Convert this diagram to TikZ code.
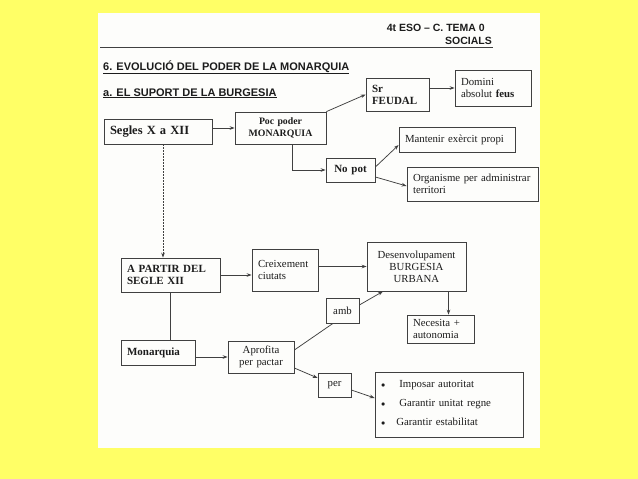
\documentclass[tikz,border=0pt]{standalone}
\usepackage{fontspec}
\setmainfont{Liberation Serif}
\newfontfamily\arialfont{Liberation Sans}
\usepackage{tikz}
\usetikzlibrary{arrows.meta, positioning, calc}
\definecolor{fonsgroc}{RGB}{255,255,102}
\definecolor{paper}{RGB}{253,253,251}
\definecolor{tinta}{RGB}{64,64,64}
\definecolor{lletra}{RGB}{28,28,28}
\tikzstyle{caixa}  = [rectangle, draw=tinta, line width=0.75pt, text=lletra,
                      inner xsep=6pt, inner ysep=2pt, align=left,
                      font=\fontsize{10.8}{12}\selectfont]
\tikzstyle{caixab} = [caixa, font=\fontsize{11}{12}\selectfont\bfseries]
\tikzstyle{titol}  = [inner sep=0pt, text=lletra,
                      font=\arialfont\bfseries\fontsize{11}{13}\selectfont]
\tikzstyle{fl}     = [-{Stealth[length=5pt, width=3.6pt]}, draw=tinta, line width=0.75pt]
\tikzstyle{ln}     = [draw=tinta, line width=0.75pt]
\newcommand{\punt}{{\fontsize{8}{8}\selectfont$\bullet$}}

\begin{document}
\begin{tikzpicture}[x=1pt, y=-1pt]

  % fons i full
  \fill[fonsgroc] (0,0) rectangle (638,479);
  \fill[paper] (98,13) rectangle (540,448);
  \useasboundingbox (0,0) rectangle (638,479);

  % capcalera
  \node[titol, anchor=base east, font=\arialfont\bfseries\fontsize{10.5}{12}\selectfont]
      (curs) at (485,31) {4t ESO – C. TEMA 0};
  \node[titol, anchor=base east, font=\arialfont\bfseries\fontsize{10.5}{12}\selectfont]
      (area) at (492,44) {SOCIALS};
  \coordinate (reglaA) at (100,47);
  \coordinate (reglaB) at (493,47);
  \draw[ln, line width=0.6pt] (reglaA) -- (reglaB);
  \node[titol, anchor=base west] (tema) at (103,70)
      {\underline{6. EVOLUCIÓ DEL PODER DE LA MONARQUIA}};
  \node[titol, anchor=base west] (apartat) at (103,96)
      {\underline{a. EL SUPORT DE LA BURGESIA}};

  % segles X a XII
  \node[caixab, text width=96pt, minimum height=25pt,
        font=\fontsize{12.5}{14}\selectfont\bfseries] (segles) at (158,131.5)
      {Segles X a XII};
  \node[caixab, text width=79pt, minimum height=32pt, align=center,
        font=\fontsize{9.8}{11.5}\selectfont\bfseries] (poc) at (280.5,128)
      {Poc poder\\MONARQUIA};
  \node[caixab, text width=51pt, minimum height=33pt] (sr) at (397.5,94.5)
      {Sr\\FEUDAL};
  \node[caixa, text width=64pt, minimum height=36pt] (domini) at (493,88)
      {Domini\\absolut \textbf{feus}};
  \node[caixab, text width=37pt, minimum height=24pt, align=center] (nopot) at (350.5,170)
      {No pot};
  \node[caixa, text width=104pt, minimum height=25pt] (mant) at (457,139.5)
      {Mantenir exèrcit propi};
  \node[caixa, text width=119pt, minimum height=34pt] (organ) at (472.5,184)
      {Organisme per administrar\\territori};

  % a partir del segle XII
  \node[caixab, text width=87pt, minimum height=34pt] (apartir) at (170.5,275)
      {A PARTIR DEL\\SEGLE XII};
  \node[caixa, text width=54pt, minimum height=42pt] (creix) at (285,270)
      {Creixement\\ciutats};
  \node[caixa, text width=87pt, minimum height=49pt, align=center] (desenv) at (416.5,266.5)
      {Desenvolupament\\BURGESIA\\URBANA};
  \node[caixa, text width=21pt, minimum height=25pt, align=center] (amb) at (342.5,310.5)
      {amb};
  \node[caixa, text width=55pt, minimum height=28pt] (necesita) at (440.5,329)
      {Necesita +\\autonomia};
  \node[caixab, text width=62pt, minimum height=25pt] (monarq) at (158,352.5)
      {Monarquia};
  \node[caixa, text width=54pt, minimum height=32pt, align=center] (aprofita) at (261,357)
      {Aprofita\\per pactar};
  \node[caixa, text width=21pt, minimum height=24pt, align=center] (per) at (334.5,385)
      {per};
  \node[caixa, text width=136pt, minimum height=65pt] (llista) at (449,404.5)
      {\begin{tabular}{@{}l@{\hspace{14pt}}l@{}}
         \punt & Imposar autoritat\\[7pt]
         \punt & Garantir unitat regne\\[7pt]
         \punt & \hspace{-3pt}Garantir estabilitat
       \end{tabular}};

  % connexions
  \draw[fl] (poc.west -| segles.east) -- (poc.west);
  \draw[fl] (poc.north east) -- (sr.west);
  \draw[fl] (domini.west -| sr.east) -- (domini.west);
  \draw[fl] ($(poc.south)+(12,0)$) |- (nopot.west);
  \draw[fl] ($(nopot.east)+(0,-3)$) -- ($(mant.west)+(0,5.5)$);
  \draw[fl] ($(nopot.east)+(0,7)$) -- ($(organ.west)+(0,2)$);
  \draw[fl, dash pattern=on 1.5pt off 1.5pt] ($(segles.south)+(5,0)$) coordinate (fil)
      -- (fil |- apartir.north);

  \draw[fl] (apartir.east) -- (apartir.east -| creix.west);
  \draw[fl] (desenv.west -| creix.east) -- (desenv.west);
  \draw[fl] ($(desenv.south)+(32,0)$) coordinate (baixa) -- (baixa |- necesita.north);
  \draw[ln] (apartir.south) -- (apartir.south |- monarq.north);
  \draw[fl] (aprofita.west -| monarq.east) -- (aprofita.west);
  \draw[ln] ($(aprofita.east)+(0,-7)$) -- ($(amb.south)+(-9.5,0)$);
  \draw[fl] ($(amb.east)+(0,-5.5)$) -- ($(desenv.south)+(-33.5,0)$);
  \draw[fl] ($(aprofita.east)+(0,11)$) -- ($(per.west)+(0,-7)$);
  \draw[fl] ($(per.east)+(0,5)$) -- ($(llista.west)+(0,-6.5)$);

\end{tikzpicture}
\end{document}
